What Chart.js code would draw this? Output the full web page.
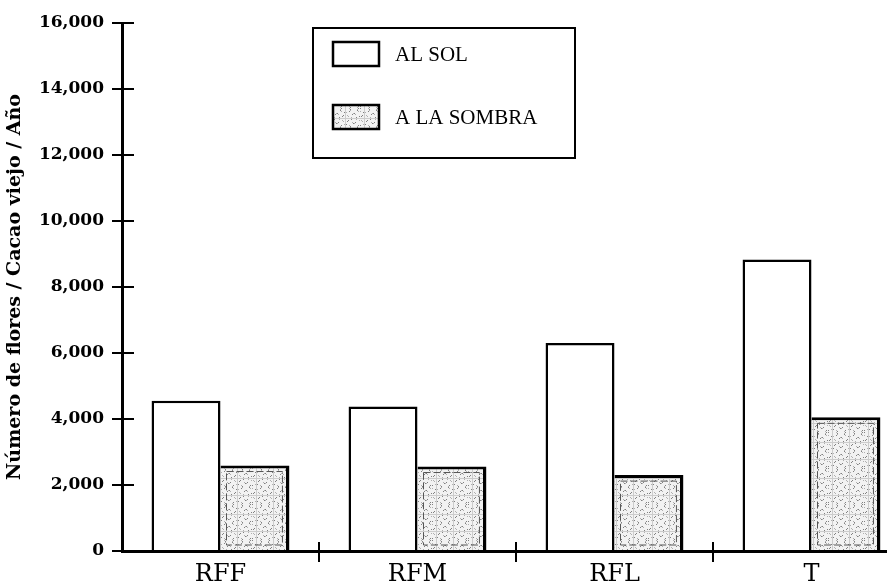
<!DOCTYPE html>
<html>
<head>
<meta charset="utf-8">
<script src="https://cdn.jsdelivr.net/npm/chart.js@4.4.1/dist/chart.umd.min.js"></script>
<style>
  html, body { margin: 0; padding: 0; background: #fff; overflow: hidden; }
  #wrap { width: 887px; height: 585px; overflow: hidden; }
  canvas { display: block; }
</style>
</head>
<body>
<div id="wrap"><canvas id="c" width="912" height="585"></canvas></div>
<script>
// ---- data ----
const categories = ['RFF', 'RFM', 'RFL', 'T'];
const seriesNames = ['AL SOL', 'A LA SOMBRA'];
const alSol = [4550, 4380, 6300, 8830];
const aLaSombra = [2590, 2560, 2300, 4050];
const yTicks = [0, 2000, 4000, 6000, 8000, 10000, 12000, 14000, 16000];
const yTitle = 'Número de flores / Cacao viejo / Año';

// ---- stipple pattern (deterministic) ----
function makePattern() {
  const p = document.createElement('canvas');
  p.width = 36; p.height = 36;
  const g = p.getContext('2d');
  g.fillStyle = '#f2f2f2';
  g.fillRect(0, 0, 36, 36);
  for (let i = 0; i < 36; i++) {
    for (let j = 0; j < 36; j++) {
      const k = (i * 7 + j * 13 + i * j) % 17;
      if (k === 0) { g.fillStyle = '#808080'; g.fillRect(i, j, 1, 1); }
      else if (k === 5) { g.fillStyle = '#b0b0b0'; g.fillRect(i, j, 1, 1); }
      else if (k === 11) { g.fillStyle = '#cccccc'; g.fillRect(i, j, 1, 1); }
    }
  }
  return g.createPattern(p, 'repeat');
}
const ctx = document.getElementById('c').getContext('2d');
const shade = makePattern();

const SERIF = '"Liberation Serif", "DejaVu Serif", serif';
const WIDE = '"DejaVu Serif", serif';

const axisTicksPlugin = {
  id: 'axisTicks',
  afterDatasetsDraw(chart) {
    const c = chart.ctx;
    const meta = chart.getDatasetMeta(1);
    c.save();
    c.strokeStyle = '#555';
    c.lineWidth = 1;
    c.setLineDash([7, 3]);
    meta.data.forEach(b => {
      const l = b.x - b.width / 2 + 6, r = b.x + b.width / 2 - 7;
      const t = b.y + 6, bt = b.base - 5;
      c.strokeRect(l, t, r - l, bt - t);
    });
    c.restore();
  },
  afterDraw(chart) {
    const c = chart.ctx;
    const a = chart.chartArea;
    const ys = chart.scales.y, xs = chart.scales.x;
    c.save();
    c.strokeStyle = '#000';
    c.lineWidth = 2;
    ys.ticks.forEach(t => {
      if (t.value === 0) return;
      const y = Math.round(ys.getPixelForValue(t.value));
      c.beginPath(); c.moveTo(a.left, y); c.lineTo(a.left + 12, y); c.stroke();
    });
    for (let i = 0; i < categories.length - 1; i++) {
      const x = Math.round((xs.getPixelForValue(i) + xs.getPixelForValue(i + 1)) / 2);
      c.beginPath(); c.moveTo(x, a.bottom - 9); c.lineTo(x, a.bottom + 11); c.stroke();
    }
    // legend box
    c.lineWidth = 2;
    c.strokeRect(313, 28, 262, 130);
    const sw = [[333, 42], [333, 105]];
    const fills = ['#ffffff', shade];
    c.font = '21px ' + SERIF;
    c.textBaseline = 'middle';
    chart.data.datasets.forEach((ds, i) => {
      const [sx, sy] = sw[i];
      c.fillStyle = fills[i];
      c.fillRect(sx, sy, 46, 24);
      c.lineWidth = 2.5;
      c.strokeStyle = '#000';
      c.strokeRect(sx, sy, 46, 24);
      c.fillStyle = '#000';
      c.fillText(ds.label, 395, sy + 13);
    });
    c.restore();
  }
};

new Chart(ctx, {
  type: 'bar',
  data: {
    labels: categories,
    datasets: [
      { label: seriesNames[0], data: alSol, backgroundColor: '#ffffff', borderColor: '#000',
        borderWidth: 2.5, borderSkipped: 'bottom', categoryPercentage: 0.70, barPercentage: 1.0 },
      { label: seriesNames[1], data: aLaSombra, backgroundColor: shade, borderColor: '#000',
        borderWidth: { top: 3, right: 3.5, bottom: 0, left: 0 }, borderSkipped: false,
        categoryPercentage: 0.70, barPercentage: 1.0 }
    ]
  },
  options: {
    responsive: false,
    devicePixelRatio: 1,
    animation: false,
    layout: { padding: { top: 23, right: 2, left: 0, bottom: 0 } },
    plugins: { legend: { display: false }, tooltip: { enabled: false } },
    scales: {
      x: {
        grid: { display: false },
        border: { display: true, color: '#000', width: 3 },
        afterFit: s => { s.height = 34; },
        ticks: { color: '#000', font: { family: WIDE, size: 24, lineHeight: 1.0 }, padding: 4 }
      },
      y: {
        min: 0, max: 16000,
        afterBuildTicks: s => { s.ticks = yTicks.map(v => ({ value: v })); },
        afterFit: s => { s.width = 122; },
        ticks: {
          color: '#000',
          font: { family: WIDE, size: 17, weight: 'bold' },
          padding: 8,
          callback: v => v === 0 ? '0' : v.toLocaleString('en-US')
        },
        grid: { drawOnChartArea: false, color: '#000', lineWidth: 2, tickLength: 10 },
        border: { display: true, color: '#000', width: 3 },
        title: { display: true, text: yTitle, color: '#000',
          font: { family: WIDE, size: 19, weight: 'bold' }, padding: { top: 4, bottom: 0 } }
      }
    }
  },
  plugins: [axisTicksPlugin]
});
</script>
</body>
</html>
